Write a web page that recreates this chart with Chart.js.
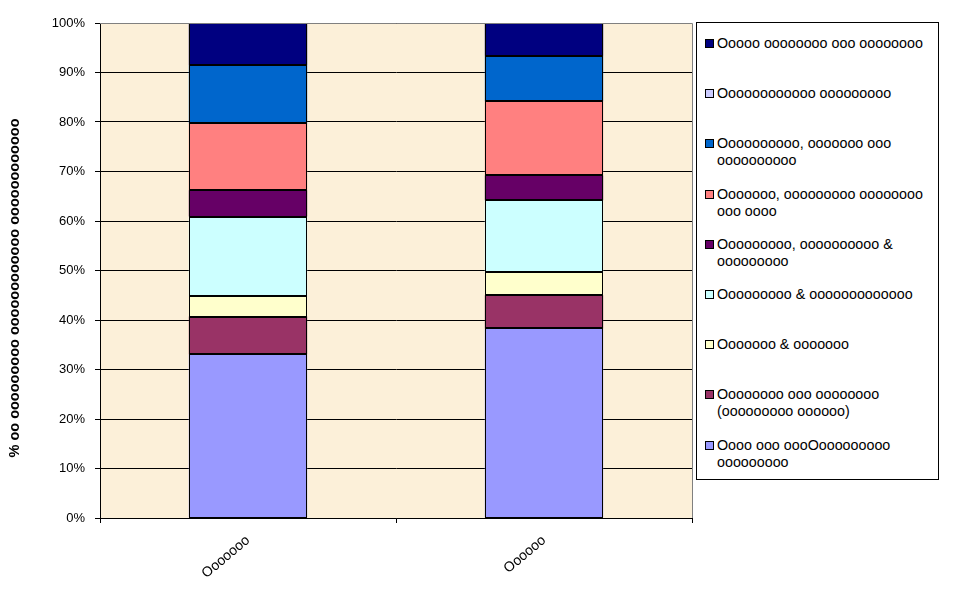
<!DOCTYPE html>
<html>
<head>
<meta charset="utf-8">
<script src="https://cdn.jsdelivr.net/npm/chart.js@4/dist/chart.umd.min.js"></script>
<style>
  html, body { margin: 0; padding: 0; background: #ffffff; }
  #wrap { position: relative; width: 967px; height: 590px; }
  #legend {
    position: absolute; left: 696px; top: 22px; width: 243px; height: 458px;
    border: 1px solid #000; background: #fff; box-sizing: border-box;
    font-family: "Liberation Sans", Arial, sans-serif; font-size: 14.3px; color: #000;
  }
  .item { position: absolute; left: 8px; line-height: 17px; }
  .sw { position: absolute; left: 0; top: 4px; width: 7px; height: 7px; border: 1px solid #000; }
  .tx { margin-left: 12px; white-space: nowrap; }
</style>
</head>
<body>
<div id="wrap">
  <canvas id="c" width="967" height="590"></canvas>
  <div id="legend"></div>
</div>
<script>
// ---- data ----
const categories = ["Ooooooo", "Oooooo"];
const seriesNames = [
  ["Oooo ooo oooOooooooooo", "ooooooooo"],
  ["Oooooooo ooo oooooooo", "(ooooooooo oooooo)"],
  ["Ooooooo & ooooooo"],
  ["Ooooooooo & ooooooooooooo"],
  ["Ooooooooo, oooooooooo &", "ooooooooo"],
  ["Ooooooo, ooooooooo oooooooo", "ooo oooo"],
  ["Oooooooooo, ooooooo ooo", "oooooooooo"],
  ["Oooooooooooo ooooooooo"],
  ["Ooooo oooooooo ooo oooooooo"]
];
const seriesColors = ["#9999FF", "#993366", "#FFFFCC", "#CCFFFF", "#660066", "#FF8080", "#0066CC", "#CCCCFF", "#000080"];
const values1 = [33.1, 7.6, 4.1, 16.1, 5.3, 13.5, 11.8, 0, 8.5];
const values2 = [38.3, 6.7, 4.6, 14.6, 5.0, 15.0, 9.2, 0, 6.6];
const yTickLabels = ["0%", "10%", "20%", "30%", "40%", "50%", "60%", "70%", "80%", "90%", "100%"];
const yTitle = "% oo ooooooooo oooooooooooo oooooooooooo";

// ---- build ----
const datasets = seriesNames.map((n, i) => ({
  label: n.join(" "),
  data: [values1[i], values2[i]],
  backgroundColor: seriesColors[i],
  borderWidth: 0,
  barPercentage: 0.4,
  categoryPercentage: 1.0
}));

const FONT = "'Liberation Sans', Arial, sans-serif";

const decor = {
  id: "decor",
  beforeDraw(chart) {
    const { ctx, chartArea: a } = chart;
    ctx.save();
    ctx.fillStyle = "#FCF0D9";
    ctx.fillRect(a.left, a.top, a.right - a.left, a.bottom - a.top);
    ctx.restore();
  },
  afterDatasetsDraw(chart) {
    const { ctx, chartArea: a } = chart;
    ctx.save();
    // bar outlines (crisp) from library-computed elements
    ctx.strokeStyle = "#000";
    ctx.lineWidth = 1;
    chart.data.datasets.forEach((ds, di) => {
      const meta = chart.getDatasetMeta(di);
      meta.data.forEach((el, j) => {
        if (!ds.data[j]) return;
        const p = el.getProps(["x", "y", "base", "width"], true);
        const l = Math.round(p.x - p.width / 2) + 0.5;
        const r = Math.round(p.x + p.width / 2) - 0.5;
        const t = Math.round(Math.min(p.y, p.base)) + 0.5;
        const b = Math.round(Math.max(p.y, p.base)) - 0.5;
        ctx.strokeRect(l, t, r - l, b - t);
      });
    });
    ctx.strokeStyle = "#808080";
    ctx.beginPath();
    ctx.moveTo(a.left, Math.round(a.top) + 0.5);
    ctx.lineTo(Math.round(a.right) + 0.5, Math.round(a.top) + 0.5);
    ctx.lineTo(Math.round(a.right) + 0.5, a.bottom);
    ctx.stroke();
    // y title
    ctx.translate(15, 288);
    ctx.rotate(-Math.PI / 2);
    ctx.font = "bold 14.5px " + FONT;
    ctx.fillStyle = "#000";
    ctx.textAlign = "center";
    ctx.textBaseline = "middle";
    ctx.fillText(yTitle, 0, 0);
    ctx.restore();
  }
};

new Chart(document.getElementById("c"), {
  type: "bar",
  data: { labels: categories, datasets },
  options: {
    responsive: false,
    animation: false,
    layout: { padding: { left: 0, right: 275, top: 23, bottom: 0 } },
    plugins: { legend: { display: false }, tooltip: { enabled: false } },
    scales: {
      x: {
        stacked: true,
        afterFit(s) { s.height = 72; },
        grid: { drawOnChartArea: false, drawTicks: true, tickLength: 5, color: "#000", offset: true },
        border: { color: "#000", width: 1 },
        ticks: { color: "#000", font: { family: FONT, size: 14 }, minRotation: 40, maxRotation: 40, padding: 9 }
      },
      y: {
        stacked: true,
        min: 0, max: 100,
        afterFit(s) { s.width = 100; },
        grid: { color: "#000", tickLength: 5, lineWidth: 1 },
        border: { color: "#000", width: 1 },
        ticks: {
          stepSize: 10, color: "#000", padding: 10,
          font: { family: FONT, size: 13 },
          callback: (v) => yTickLabels[Math.round(v / 10)]
        }
      }
    }
  },
  plugins: [decor]
});

// ---- legend ----
const leg = document.getElementById("legend");
for (let k = 0; k < seriesNames.length; k++) {
  const i = seriesNames.length - 1 - k;
  const it = document.createElement("div");
  it.className = "item";
  it.style.top = (12 + k * 50.2) + "px";
  const sw = document.createElement("div");
  sw.className = "sw";
  sw.style.background = seriesColors[i];
  const tx = document.createElement("div");
  tx.className = "tx";
  tx.innerHTML = seriesNames[i].map(s => s.replace(/&/g, "&amp;")).join("<br>");
  it.appendChild(sw); it.appendChild(tx);
  leg.appendChild(it);
}
</script>
</body>
</html>
